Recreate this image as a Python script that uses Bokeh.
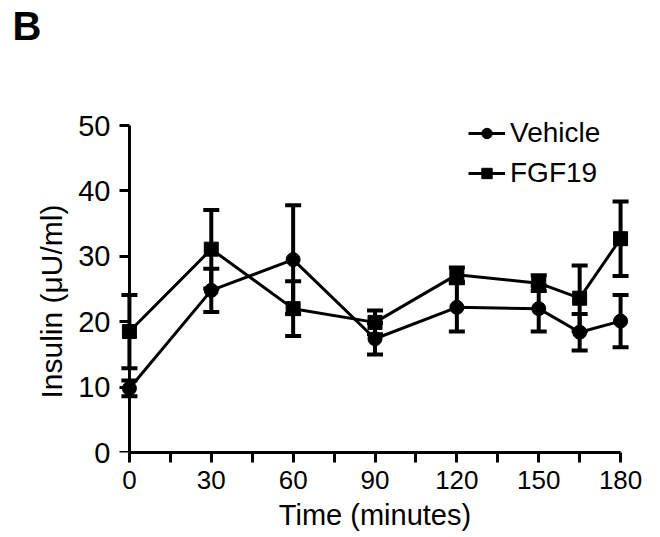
from bokeh.plotting import figure
from bokeh.models import (Range1d, FixedTicker, Whisker, TeeHead, ColumnDataSource,
                          Legend, LegendItem, LinearAxis, Title)
from bokeh.embed import file_html
from bokeh.resources import INLINE

# ---- data ----
time_min = [0, 30, 60, 90, 120, 150, 165, 180]
vehicle_mean = [9.8, 24.8, 29.5, 17.4, 22.2, 22.0, 18.4, 20.1]
vehicle_sem = [1.2, 3.3, 8.3, 2.4, 3.7, 3.5, 2.8, 4.0]
fgf19_mean = [18.5, 31.1, 22.0, 19.9, 27.2, 25.9, 23.6, 32.7]
fgf19_sem = [5.6, 6.0, 4.2, 1.8, 1.1, 1.2, 5.0, 5.7]

x_ticks = [0, 30, 60, 90, 120, 150, 180]
x_minor_ticks = [15, 45, 75, 105, 135, 165]
y_ticks = [0, 10, 20, 30, 40, 50]

FONT = "Liberation Sans"

veh = ColumnDataSource(dict(
    t=time_min, m=vehicle_mean,
    lo=[m - s for m, s in zip(vehicle_mean, vehicle_sem)],
    hi=[m + s for m, s in zip(vehicle_mean, vehicle_sem)]))
fgf = ColumnDataSource(dict(
    t=time_min, m=fgf19_mean,
    lo=[m - s for m, s in zip(fgf19_mean, fgf19_sem)],
    hi=[m + s for m, s in zip(fgf19_mean, fgf19_sem)]))

p = figure(width=660, height=537,
           x_range=Range1d(-4, 184), y_range=Range1d(0, 52),
           min_border_left=118, min_border_right=29,
           min_border_top=112, min_border_bottom=85,
           output_backend="svg", toolbar_location=None)
p.outline_line_color = None
p.grid.visible = False
p.background_fill_color = "white"
p.border_fill_color = "white"

xa = p.below[0]   # bottom x axis
ya = p.left[0]    # left y axis (tick labels)

# panel letter "B"
p.title.text = "B"
p.title.text_font = FONT
p.title.text_font_size = "40px"
p.title.text_font_style = "bold"
p.title.text_color = "black"
p.title.align = "left"
p.title.vertical_align = "top"
p.title.offset = -106
p.title.standoff = 0


def style_axis(ax):
    ax.axis_line_width = 3
    ax.axis_line_color = "black"
    ax.major_tick_line_width = 3
    ax.major_tick_line_color = "black"
    ax.minor_tick_line_width = 3
    ax.minor_tick_line_color = "black"
    ax.major_tick_in = 0
    ax.major_tick_out = 10
    ax.minor_tick_in = 0
    ax.minor_tick_out = 10
    ax.major_label_text_font = FONT
    ax.major_label_text_font_size = "26px"
    ax.major_label_text_color = "black"
    ax.axis_label_text_font = FONT
    ax.axis_label_text_font_size = "29px"
    ax.axis_label_text_font_style = "normal"
    ax.axis_label_text_color = "black"


# x axis (frame bottom is y = 0)
style_axis(xa)
xa.ticker = FixedTicker(ticks=x_ticks, minor_ticks=x_minor_ticks)
xa.bounds = (0, 180)
xa.axis_label = "Time (minutes)"
xa.major_label_standoff = 8
xa.axis_label_standoff = 7

# y axis tick labels (at frame edge, no line / ticks)
style_axis(ya)
ya.ticker = FixedTicker(ticks=y_ticks, minor_ticks=[])
ya.bounds = (0, 50)
ya.axis_line_color = None
ya.major_tick_line_color = None
ya.major_tick_out = 0
ya.minor_tick_out = 0
ya.major_label_standoff = 8
ya.major_label_text_font_size = "29px"

# white (invisible) spacer between the letter "B" and the plot frame:
# one white tick at the frame's left edge, no label
spacer = LinearAxis(ticker=FixedTicker(ticks=[-4], minor_ticks=[]),
                    axis_line_color=None, major_tick_line_color="white",
                    major_tick_line_width=1,
                    minor_tick_line_color=None, major_tick_in=0,
                    major_tick_out=63, minor_tick_in=0, minor_tick_out=0,
                    major_label_standoff=0,
                    major_label_overrides={-4: ""},
                    major_label_text_font_size="0px")
p.add_layout(spacer, "above")

# y axis title
ytitle = Title(text="Insulin (\u03bcU/ml)", align="left", offset=54,
               standoff=16, text_font=FONT, text_font_size="30px",
               text_font_style="normal", text_color="black")
p.add_layout(ytitle, "left")

# y axis line and ticks drawn at x = 0
y_rule = LinearAxis(fixed_location=0)
style_axis(y_rule)
y_rule.ticker = FixedTicker(ticks=y_ticks, minor_ticks=[])
y_rule.bounds = (0, 50)
y_rule.major_label_overrides = {t: "" for t in y_ticks}
y_rule.major_label_text_font_size = "0px"
y_rule.major_label_standoff = 0
p.add_layout(y_rule, "left")

# error bars
for src in (veh, fgf):
    w = Whisker(base="t", upper="hi", lower="lo", source=src, dimension="height",
                line_width=4, line_color="black",
                upper_head=TeeHead(size=16, line_width=4, line_color="black"),
                lower_head=TeeHead(size=16, line_width=4, line_color="black"))
    p.add_layout(w)

vl = p.line("t", "m", source=veh, line_width=3, line_color="black")
vs = p.scatter("t", "m", source=veh, marker="circle", size=14,
               fill_color="black", line_color="black")
fl = p.line("t", "m", source=fgf, line_width=3, line_color="black")
fs = p.scatter("t", "m", source=fgf, marker="square", size=14,
               fill_color="black", line_color="black")

legend = Legend(items=[LegendItem(label="Vehicle", renderers=[vl, vs]),
                       LegendItem(label="FGF19", renderers=[fl, fs])],
                location=(350, 262), padding=0, margin=0, spacing=6,
                glyph_width=37, glyph_height=26, label_height=34,
                label_standoff=5, border_line_color=None,
                background_fill_alpha=0,
                label_text_font=FONT, label_text_font_size="28px",
                label_text_color="black")
p.add_layout(legend)

open("out.html", "w").write(file_html(p, INLINE))
